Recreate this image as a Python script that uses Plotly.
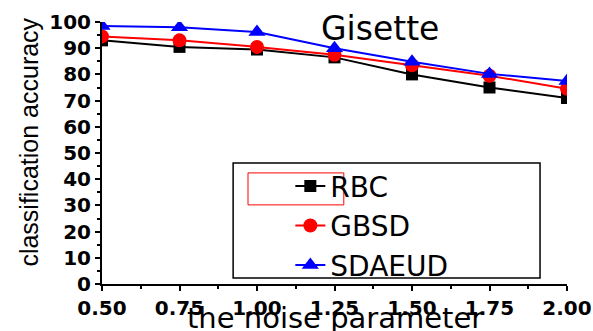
import plotly.graph_objects as go

noise = [0.50, 0.75, 1.00, 1.25, 1.50, 1.75, 2.00]
rbc = [93.0, 90.5, 89.5, 86.5, 80.0, 75.0, 71.0]
gbsd = [94.5, 93.0, 90.5, 87.5, 83.5, 79.5, 74.5]
sdaeud = [98.5, 98.0, 96.2, 90.0, 84.8, 80.2, 77.5]
x_ticks = [0.50, 0.75, 1.00, 1.25, 1.50, 1.75, 2.00]
x_tick_text = ["0.50", "0.75", "1.00", "1.25", "1.50", "1.75", "2.00"]
y_ticks = [0, 10, 20, 30, 40, 50, 60, 70, 80, 90, 100]

fig = go.Figure()
fig.add_trace(go.Scatter(x=noise, y=rbc, name="RBC", mode="lines+markers",
                         line=dict(color="black", width=2),
                         marker=dict(symbol="square", size=12, color="black")))
fig.add_trace(go.Scatter(x=noise, y=gbsd, name="GBSD", mode="lines+markers",
                         line=dict(color="red", width=2),
                         marker=dict(symbol="circle", size=14, color="red")))
fig.add_trace(go.Scatter(x=noise, y=sdaeud, name="SDAEUD", mode="lines+markers",
                         line=dict(color="blue", width=2),
                         marker=dict(symbol="triangle-up", size=15, color="blue")))

tickfont = dict(family="DejaVu Sans", size=20, color="black", weight="bold")
fig.update_xaxes(range=[0.5, 2.0], tickvals=x_ticks, ticktext=x_tick_text, automargin=False,
                 showline=True, linecolor="black", linewidth=2,
                 ticks="outside", ticklen=5, tickwidth=1.5, tickcolor="black",
                 minor=dict(dtick=0.125, ticks="outside", ticklen=3, tickcolor="black", tickwidth=1.5),
                 showgrid=False, zeroline=False, tickfont=tickfont, mirror=False)
fig.update_yaxes(range=[0, 100], tickvals=y_ticks, automargin=False,
                 showline=True, linecolor="black", linewidth=2,
                 ticks="outside", ticklen=5, tickwidth=1.5, tickcolor="black",
                 minor=dict(dtick=5, ticks="outside", ticklen=3, tickcolor="black", tickwidth=1.5),
                 showgrid=False, zeroline=False, tickfont=tickfont, mirror=False)

fig.update_layout(
    template="none",
    width=593, height=331,
    margin=dict(l=102, r=26, t=22, b=47),
    plot_bgcolor="white", paper_bgcolor="white",
    showlegend=True,
    legend=dict(x=0.405, y=0.468, xanchor="left", yanchor="top",
                borderwidth=0, bgcolor="rgba(255,255,255,0)",
                font=dict(family="DejaVu Sans", size=28, color="black"),
                tracegroupgap=0),
    annotations=[
        dict(text="Gisette", xref="paper", yref="paper", x=0.598, y=0.975,
             xanchor="center", yanchor="middle", showarrow=False,
             font=dict(family="DejaVu Sans", size=33, color="black")),
        dict(text="classification accuracy", xref="paper", yref="paper",
             x=-0.159, y=0.54, xanchor="center", yanchor="middle", textangle=-90,
             showarrow=False, font=dict(family="Liberation Sans", size=25, color="black")),
        dict(text="the noise parameter", xref="paper", yref="paper",
             x=0.50, y=-0.128, xanchor="center", yanchor="middle",
             showarrow=False, font=dict(family="DejaVu Sans", size=29, color="black")),
    ],
    shapes=[
        dict(type="rect", xref="paper", yref="paper", x0=0.282, x1=0.942, y0=0.023, y1=0.462,
             line=dict(color="black", width=1.5), fillcolor="white", layer="below"),
        dict(type="rect", xref="paper", yref="paper", x0=0.314, x1=0.520, y0=0.302, y1=0.424,
             line=dict(color="red", width=1), fillcolor="rgba(0,0,0,0)", layer="above"),
    ],
)

fig.write_html("out.html", config={"displayModeBar": False},
               post_script="document.body.style.margin='0';")
